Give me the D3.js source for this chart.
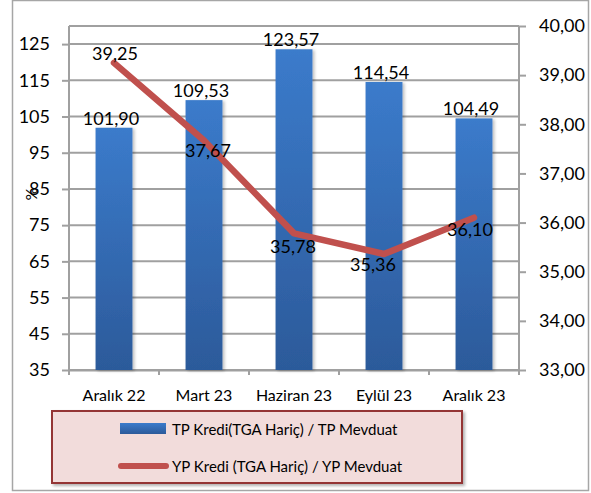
<!DOCTYPE html>
<html>
<head>
<meta charset="utf-8">
<script src="https://cdn.jsdelivr.net/npm/d3@7/dist/d3.min.js"></script>
<style>
  html, body { margin: 0; padding: 0; background: #fff; }
  svg { display: block; font-family: Lato, "Open Sans", sans-serif; }
</style>
</head>
<body>
<svg id="chart" width="591" height="493"></svg>
<script>
// Periods shown on the x axis
const categories = ["Aralık 22", "Mart 23", "Haziran 23", "Eylül 23", "Aralık 23"];
// TP Kredi (TGA Hariç) / TP Mevduat, % (bars, left axis)
const tpRatio = [101.90, 109.53, 123.57, 114.54, 104.49];
// YP Kredi (TGA Hariç) / YP Mevduat, % (line, right axis)
const ypRatio = [39.25, 37.67, 35.78, 35.36, 36.10];
// Axis ticks
const leftTicks = [35, 45, 55, 65, 75, 85, 95, 105, 115, 125];
const rightTicks = [33, 34, 35, 36, 37, 38, 39, 40];
// Legend texts
const seriesNames = ["TP Kredi(TGA Hariç) / TP Mevduat", "YP Kredi (TGA Hariç) / YP Mevduat"];
// Where each line value label sits relative to its point (dx, dy of the baseline)
const lineLabelOffset = [[1, -3], [4, 16], [-1, 20], [-11, 17], [-4, 18]];

const fmt = v => d3.format(".2f")(v).replace(".", ",");

const svg = d3.select("#chart");
const defs = svg.append("defs");

const grad = defs.append("linearGradient")
  .attr("id", "barGrad").attr("x1", 0).attr("y1", 0).attr("x2", 0).attr("y2", 1);
grad.append("stop").attr("offset", "0%").attr("stop-color", "#3b7bcb");
grad.append("stop").attr("offset", "100%").attr("stop-color", "#2c5a9a");

const shadow = defs.append("filter").attr("id", "barShadow")
  .attr("x", "-20%").attr("y", "-10%").attr("width", "150%").attr("height", "130%");
shadow.append("feDropShadow").attr("dx", 2).attr("dy", 1).attr("stdDeviation", 1.5)
  .attr("flood-color", "#000").attr("flood-opacity", 0.25);

const legShadow = defs.append("filter").attr("id", "legShadow")
  .attr("x", "-5%").attr("y", "-10%").attr("width", "115%").attr("height", "130%");
legShadow.append("feDropShadow").attr("dx", 2).attr("dy", 2).attr("stdDeviation", 1.5)
  .attr("flood-color", "#000").attr("flood-opacity", 0.3);

// Outer chart frame
svg.append("rect").attr("x", 12.5).attr("y", 0.5).attr("width", 576).attr("height", 490)
  .attr("fill", "#fff").attr("stroke", "#a6a6a6").attr("stroke-width", 1.5);

const plot = { left: 69, right: 519, top: 26, bottom: 370 };

const x = d3.scaleBand().domain(categories).range([plot.left, plot.right]).paddingInner(0.59).paddingOuter(0.295);
const xTick = d3.scaleBand().domain(categories).range([plot.left, plot.right]);
const yL = d3.scaleLinear().domain([35, 130]).range([plot.bottom, plot.top]);
const yR = d3.scaleLinear().domain([33, 40]).range([plot.bottom, plot.top]);

const gridColor = "#a0a0a0";

// Horizontal gridlines follow the left axis ticks
svg.append("g").selectAll("line").data(leftTicks).join("line")
  .attr("x1", plot.left).attr("x2", plot.right)
  .attr("y1", d => yL(d)).attr("y2", d => yL(d))
  .attr("stroke", gridColor).attr("stroke-width", 2);
// Top edge of the plot area
svg.append("line").attr("x1", plot.left).attr("x2", plot.right)
  .attr("y1", plot.top).attr("y2", plot.top).attr("stroke", gridColor).attr("stroke-width", 2);

// Left axis
const leftAxis = svg.append("g").attr("transform", `translate(${plot.left},0)`)
  .call(d3.axisLeft(yL).tickValues(leftTicks).tickFormat(d3.format("d")).tickSize(7).tickPadding(12));
// Right axis
const rightAxis = svg.append("g").attr("transform", `translate(${plot.right},0)`)
  .call(d3.axisRight(yR).tickValues(rightTicks).tickFormat(fmt).tickSize(7).tickPadding(13));
// Bottom axis with ticks between categories
const bottomAxis = svg.append("g").attr("transform", `translate(0,${plot.bottom})`)
  .call(d3.axisBottom(xTick).tickSize(0).tickPadding(20));
const boundaries = categories.map(c => xTick(c)).concat([plot.right]);
svg.append("g").selectAll("line").data(boundaries).join("line")
  .attr("x1", d => d).attr("x2", d => d)
  .attr("y1", plot.bottom).attr("y2", plot.bottom + 5)
  .attr("stroke", gridColor).attr("stroke-width", 2);

[leftAxis, rightAxis, bottomAxis].forEach(g => {
  g.selectAll(".domain").attr("stroke", gridColor).attr("stroke-width", 2);
  g.selectAll(".tick line").attr("stroke", gridColor).attr("stroke-width", 2);
  g.selectAll("text").attr("fill", "#000").attr("font-size", 18)
    .attr("font-family", "Lato, 'Open Sans', sans-serif");
});
leftAxis.select(".domain").attr("d", `M0,${plot.top}V${plot.bottom}`);
rightAxis.select(".domain").attr("d", `M0,${plot.top}V${plot.bottom}`);
bottomAxis.selectAll("text").attr("font-size", 16);

// Axis title
svg.append("text").attr("transform", "translate(37,194) rotate(-90)")
  .attr("text-anchor", "middle").attr("font-size", 16).attr("fill", "#000").text("%");

// Bars
svg.append("g").selectAll("rect").data(tpRatio).join("rect")
  .attr("x", (d, i) => x(categories[i]))
  .attr("y", d => yL(d))
  .attr("width", x.bandwidth())
  .attr("height", d => yL(35) - yL(d))
  .attr("fill", "url(#barGrad)")
  .attr("filter", "url(#barShadow)");

// Bar value labels
svg.append("g").selectAll("text").data(tpRatio).join("text")
  .attr("x", (d, i) => x(categories[i]) + x.bandwidth() / 2 - 3)
  .attr("y", d => yL(d) - 3)
  .attr("text-anchor", "middle").attr("font-size", 18).attr("fill", "#000")
  .text(fmt);

// Line
const line = d3.line()
  .x((d, i) => xTick(categories[i]) + xTick.bandwidth() / 2)
  .y(d => yR(d));
svg.append("path").datum(ypRatio).attr("d", line)
  .attr("fill", "none").attr("stroke", "#c0504d").attr("stroke-width", 6.5)
  .attr("stroke-linecap", "round").attr("stroke-linejoin", "round");

// Line value labels
svg.append("g").selectAll("text").data(ypRatio).join("text")
  .attr("x", (d, i) => xTick(categories[i]) + xTick.bandwidth() / 2 + lineLabelOffset[i][0])
  .attr("y", (d, i) => yR(d) + lineLabelOffset[i][1])
  .attr("text-anchor", "middle").attr("font-size", 18).attr("fill", "#000")
  .text(fmt);

// Legend
const leg = svg.append("g");
leg.append("rect").attr("x", 52).attr("y", 411).attr("width", 410).attr("height", 72)
  .attr("fill", "#f2dcdb").attr("stroke", "#943634").attr("stroke-width", 2)
  .attr("filter", "url(#legShadow)");
leg.append("rect").attr("x", 120).attr("y", 423).attr("width", 46).attr("height", 11)
  .attr("fill", "url(#barGrad)");
leg.append("line").attr("x1", 121).attr("x2", 166).attr("y1", 466).attr("y2", 466)
  .attr("stroke", "#c0504d").attr("stroke-width", 6).attr("stroke-linecap", "round");
leg.selectAll("text.lg").data(seriesNames).join("text").attr("class", "lg")
  .attr("x", 172).attr("y", (d, i) => 435 + i * 37)
  .attr("font-size", 15).attr("fill", "#000").text(d => d);
</script>
</body>
</html>
